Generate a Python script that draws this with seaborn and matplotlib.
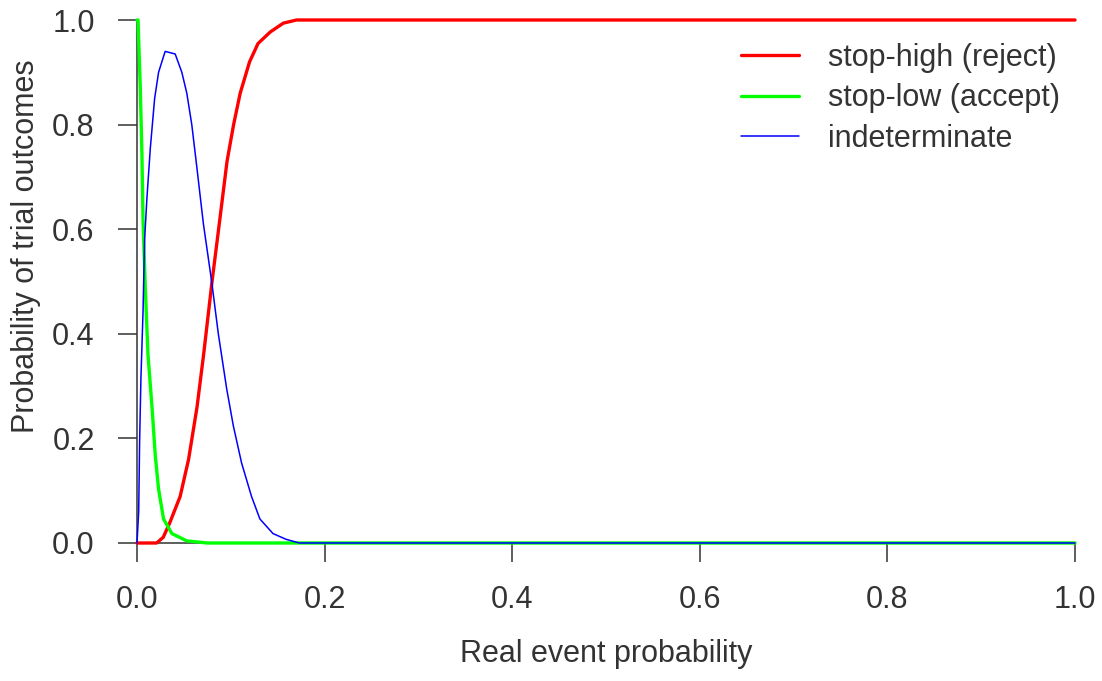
import matplotlib
matplotlib.use("Agg")
import matplotlib.pyplot as plt
import seaborn as sns

red_x = [0, 0.021, 0.028, 0.035, 0.046, 0.055, 0.064, 0.071, 0.080, 0.087,
         0.096, 0.103, 0.110, 0.120, 0.129, 0.142, 0.156, 0.170, 1.0]
red_y = [0, 0, 0.011, 0.039, 0.089, 0.16, 0.26, 0.36, 0.50, 0.60,
         0.73, 0.80, 0.86, 0.92, 0.955, 0.977, 0.994, 1.0, 1.0]

green_x = [0, 0.0011, 0.0035, 0.0053, 0.0064, 0.0088, 0.0117, 0.016, 0.0195,
           0.023, 0.0283, 0.0372, 0.0531, 0.075, 1.0]
green_y = [1.0, 1.0, 0.87, 0.74, 0.62, 0.49, 0.36, 0.26, 0.167,
           0.103, 0.046, 0.018, 0.004, 0, 0]

blue_x = [0, 0.0018, 0.0028, 0.0042, 0.0064, 0.0081, 0.0106, 0.0142, 0.0188,
          0.023, 0.030, 0.0407, 0.0478, 0.0531, 0.0584, 0.0637, 0.0708, 0.0796,
          0.0867, 0.0956, 0.1027, 0.1115, 0.1221, 0.131, 0.145, 0.159, 0.173, 1.0]
blue_y = [0, 0.06, 0.195, 0.316, 0.44, 0.58, 0.66, 0.755, 0.85,
          0.90, 0.94, 0.935, 0.90, 0.86, 0.80, 0.72, 0.61, 0.50,
          0.40, 0.295, 0.224, 0.153, 0.089, 0.046, 0.018, 0.007, 0, 0]

labels = ["stop-high (reject)", "stop-low (accept)", "indeterminate"]
ticks = [0.0, 0.2, 0.4, 0.6, 0.8, 1.0]

sns.set_theme(style="ticks")
plt.rcParams["font.family"] = ["Liberation Sans", "DejaVu Sans"]
ink = "#333333"
fs = 22

fig = plt.figure(figsize=(11.02, 6.81), dpi=100)
ax = fig.add_axes([137 / 1102, 1 - 543 / 681, 938 / 1102, 523 / 681])

sns.lineplot(x=red_x, y=red_y, color="#ff0000", lw=2.4, label=labels[0], ax=ax, sort=False, clip_on=False)
sns.lineplot(x=green_x, y=green_y, color="#00ff00", lw=2.4, label=labels[1], ax=ax, sort=False, clip_on=False)
sns.lineplot(x=blue_x, y=blue_y, color="#0000ff", lw=1.1, label=labels[2], ax=ax, sort=False, clip_on=False)

ax.set_xlim(0, 1)
ax.set_ylim(0, 1)
ax.set_xticks(ticks)
ax.set_yticks(ticks)
ax.set_xticklabels([f"{t:.1f}" for t in ticks])
ax.set_yticklabels([f"{t:.1f}" for t in ticks])
sns.despine(ax=ax)
for s in ["left", "bottom"]:
    ax.spines[s].set_color(ink)
    ax.spines[s].set_linewidth(1.1)
    ax.spines[s].set_zorder(0)
ax.tick_params(length=13.5, width=1.1, color=ink, labelcolor=ink, labelsize=fs, pad=17)

ax.set_xlabel("Real event probability", fontsize=fs, color=ink)
ax.set_ylabel("Probability of trial outcomes", fontsize=fs, color=ink)
ax.xaxis.set_label_coords(0.5, -0.1836)
ax.yaxis.set_label_coords(-0.102, 0.568)

leg = ax.legend(loc="upper right", bbox_to_anchor=(1060 / 1102, 1 - 43 / 681),
                bbox_transform=fig.transFigure, frameon=False, fontsize=fs,
                handlelength=1.9, handletextpad=0.95, labelspacing=0.34,
                borderpad=0, borderaxespad=0)
for t in leg.get_texts():
    t.set_color(ink)

fig.savefig("out.png", dpi=100)
